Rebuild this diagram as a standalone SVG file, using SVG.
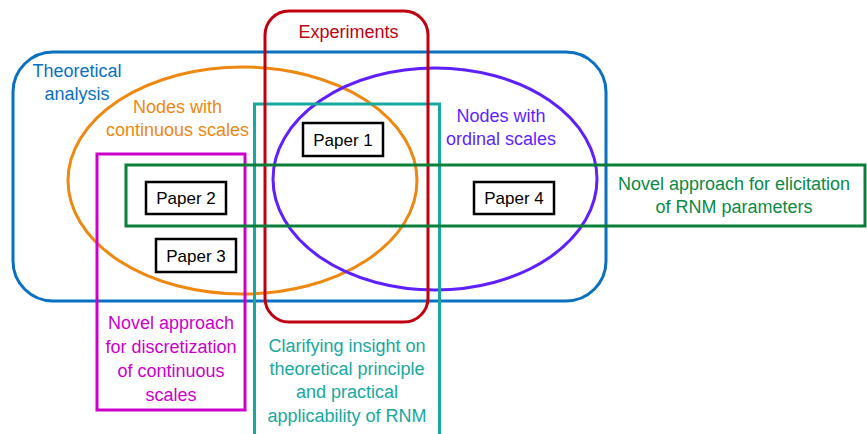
<svg xmlns="http://www.w3.org/2000/svg" width="867" height="434" viewBox="0 0 867 434">
<style>
.s{fill:none;stroke-width:3}
.t{font-family:"Liberation Sans",Arial,sans-serif;font-size:18px;text-anchor:middle}
.pb{fill:#fff;stroke:#000;stroke-width:2.5}
.pt{font-family:"Liberation Sans",Arial,sans-serif;font-size:17px;text-anchor:middle;fill:#000}
</style>
<rect width="867" height="434" fill="#fff"/>
<g id="theoretical">
<rect class="s" x="13" y="52" width="593" height="249" rx="40" stroke="#0A70C2"/>
<text class="t" fill="#0A70C2" x="77" y="77">Theoretical</text>
<text class="t" fill="#0A70C2" x="77" y="100">analysis</text>
</g>
<g id="continuous">
<ellipse class="s" cx="242.5" cy="180.5" rx="174.5" ry="113.5" stroke="#EE8810"/>
<text class="t" fill="#EE8810" x="177.5" y="113">Nodes with</text>
<text class="t" fill="#EE8810" x="177.5" y="136">continuous scales</text>
</g>
<g id="ordinal">
<ellipse class="s" cx="435" cy="179" rx="162" ry="111" stroke="#5F1FFF"/>
<text class="t" fill="#5F1FFF" x="501" y="122">Nodes with</text>
<text class="t" fill="#5F1FFF" x="501" y="145">ordinal scales</text>
</g>
<g id="discretization">
<rect class="s" x="97" y="154" width="148" height="256" stroke="#CC00CC"/>
<text class="t" fill="#CC00CC" x="171" y="329">Novel approach</text>
<text class="t" fill="#CC00CC" x="171" y="353">for discretization</text>
<text class="t" fill="#CC00CC" x="171" y="377">of continuous</text>
<text class="t" fill="#CC00CC" x="171" y="401">scales</text>
</g>
<g id="clarifying">
<rect class="s" x="254.5" y="104" width="185" height="340" stroke="#17A8A0"/>
<text class="t" fill="#17A8A0" x="347" y="352">Clarifying insight on</text>
<text class="t" fill="#17A8A0" x="347" y="375">theoretical principle</text>
<text class="t" fill="#17A8A0" x="347" y="398">and practical</text>
<text class="t" fill="#17A8A0" x="347" y="422">applicability of RNM</text>
</g>
<g id="experiments">
<rect class="s" x="265" y="11" width="163" height="311" rx="24" stroke="#C00010"/>
<text class="t" fill="#C00010" x="348.5" y="38">Experiments</text>
</g>
<g id="elicitation">
<rect class="s" x="126" y="165" width="739" height="61" stroke="#0A7F3A"/>
<text class="t" fill="#0A8A45" x="734" y="190">Novel approach for elicitation</text>
<text class="t" fill="#0A8A45" x="734" y="213">of RNM parameters</text>
</g>
<g id="paper1">
<rect class="pb" x="303" y="123" width="80" height="33"/>
<text class="pt" x="343" y="146">Paper 1</text>
</g>
<g id="paper2">
<rect class="pb" x="146" y="182" width="80" height="32"/>
<text class="pt" x="186" y="204">Paper 2</text>
</g>
<g id="paper3">
<rect class="pb" x="156" y="239" width="80" height="33"/>
<text class="pt" x="196" y="262">Paper 3</text>
</g>
<g id="paper4">
<rect class="pb" x="474" y="182" width="80" height="32"/>
<text class="pt" x="514" y="204">Paper 4</text>
</g>
<g id="connectors"></g>
</svg>
